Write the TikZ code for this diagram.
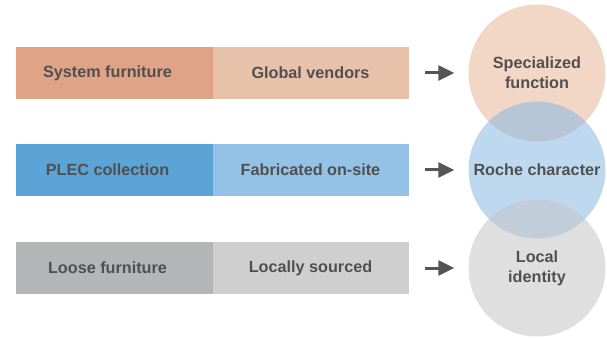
\documentclass[tikz,border=0pt]{standalone}
\usepackage{fontspec}
\setmainfont{Liberation Sans}
\usetikzlibrary{arrows.meta}

\definecolor{sysDark}{HTML}{DFA385}
\definecolor{sysLight}{HTML}{E8C1AB}
\definecolor{plecDark}{HTML}{5CA3D6}
\definecolor{plecLight}{HTML}{93C2E6}
\definecolor{looseDark}{HTML}{B3B5B6}
\definecolor{looseLight}{HTML}{CFCFD0}
\definecolor{labelGray}{HTML}{505050}
\definecolor{arrowGray}{HTML}{555555}

\tikzset{
  barcell/.style={rectangle, inner sep=0pt, outer sep=0pt, minimum height=52pt, anchor=north west,
    font=\fontsize{16.2}{19}\selectfont\bfseries, text=labelGray},
  leftcell/.style={barcell, minimum width=197pt, execute at begin node={\hspace*{-14pt}}},
  rightcell/.style={barcell, minimum width=197pt},
  venn/.style={circle, inner sep=0pt, minimum size=137pt, fill opacity=0.55, text opacity=1,
    align=center, font=\fontsize{16.2}{20}\selectfont\bfseries, text=labelGray},
  flow/.style={draw=arrowGray, line width=3pt, -{Triangle[length=16pt,width=15pt]}}
}

\begin{document}
\begin{tikzpicture}[x=1pt, y=-1pt]
% page frame, pixel grid with y pointing down
\useasboundingbox (0,0) rectangle (607,339);

% Bars: source on the left, supply route on the right (right cell tucks 1pt under the left one)
\node[rightcell, fill=sysLight] (glob) at (212,47) {Global vendors};
\node[leftcell, fill=sysDark] (sys) at (16,47) {System furniture};

\node[rightcell, fill=plecLight] (fab) at (212,144) {Fabricated on-site};
\node[leftcell, fill=plecDark] (plec) at (16,144) {PLEC collection};

\node[rightcell, fill=looseLight] (local) at (212,242) {Locally sourced};
\node[leftcell, fill=looseDark] (loose) at (16,242) {Loose furniture};

% Stacked circles
\node[venn, fill={rgb,255:red,232;green,180;blue,152}] (spec) at (537,73) {Specialized\\function};
\node[venn, fill={rgb,255:red,136;green,186;blue,226}] (roche) at (537,170) {Roche character};
\node[venn, fill={rgb,255:red,196;green,196;blue,198}] (ident) at (537,268) {Local\\identity};

% Arrows between bars and circles
\draw[flow] ([xshift=16pt]glob.east) -- ([xshift=-14pt]spec.west);
\draw[flow] ([xshift=16pt]fab.east) -- ([xshift=-14pt]roche.west);
\draw[flow] ([xshift=16pt]local.east) -- ([xshift=-14pt]ident.west);
\end{tikzpicture}
\end{document}
